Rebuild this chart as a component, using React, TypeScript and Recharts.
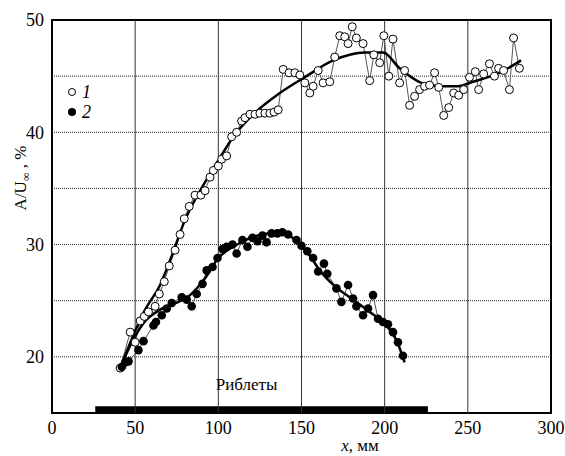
import React from "react";
import {
  ComposedChart,
  Line,
  XAxis,
  YAxis,
  ReferenceLine,
  ReferenceArea,
  ReferenceDot,
  Legend,
} from "recharts";

// Series 1 (open circles): x in mm, A/U∞ in %
const s1X = [
  41, 47, 50, 53, 55.5, 58, 62, 64.5, 67.5, 70.5, 74, 77, 79.5, 82.5, 86, 89.5, 92,
  95, 97, 100, 102, 105, 108, 111, 114, 116, 119, 122, 125, 128, 131, 133.5, 136,
  139, 142.5, 146, 149, 152, 155, 157, 160, 163, 167, 170, 173, 176, 178, 180.5,
  183, 187, 191, 193.5, 197, 199.5, 202.5, 205, 209, 212, 215, 218, 221, 224, 227,
  230, 232.5, 235.5, 238.5, 241.5, 244.5, 247.5, 251, 254.5, 256.5, 259.5, 263,
  266, 268.5, 271.5, 275, 277.5, 281,
];
const s1Y = [
  19.0, 22.2, 21.3, 23.2, 23.6, 24.0, 24.5, 25.6, 26.7, 28.1, 29.5, 30.9, 32.3, 33.4,
  34.4, 34.4, 34.8, 36.0, 36.6, 37.0, 37.6, 37.9, 39.6, 40.0, 41.0, 41.3, 41.6, 41.6,
  41.7, 41.7, 41.7, 41.8, 42.0, 45.6, 45.3, 45.3, 45.1, 44.4, 43.5, 44.1, 45.5, 44.4,
  44.5, 46.7, 48.6, 48.5, 47.9, 49.4, 48.4, 47.9, 44.6, 46.9, 46.2, 48.6, 45.0, 48.3,
  44.4, 45.5, 42.4, 43.2, 43.8, 44.1, 44.2, 45.3, 44.0, 41.5, 42.2, 43.5, 43.3, 43.8,
  44.9, 45.4, 43.8, 45.2, 46.1, 45.0, 45.7, 45.5, 43.8, 48.4, 45.7,
];

// Series 2 (filled circles)
const s2X = [
  42, 44, 46, 52, 55, 61, 62.5, 66, 69, 72, 78, 81, 84, 87, 90.5, 93, 96.5, 99.5,
  102.5, 105, 108.5, 111, 114.5, 117.5, 120.5, 123.5, 126.5, 129, 132, 135.5, 138.5,
  142, 147, 150, 153.5, 157, 160, 163.5, 165.5, 171, 174, 178, 181, 183, 187, 190,
  193, 196, 199, 202, 205, 208, 211,
];
const s2Y = [
  19.1, 19.5, 19.6, 20.6, 21.4, 22.8, 23.1, 23.7, 24.3, 24.8, 25.3, 25.1, 24.5, 25.6,
  26.5, 27.7, 28.0, 28.8, 29.6, 29.8, 30.0, 29.2, 30.4, 29.8, 30.6, 30.3, 30.8, 30.2,
  31.0, 31.0, 31.1, 30.9, 30.4, 29.9, 29.4, 28.8, 27.6, 28.3, 27.4, 26.1, 24.9, 26.4,
  25.2, 24.5, 23.7, 24.3, 25.5, 23.4, 23.1, 22.9, 22.2, 21.3, 20.1,
];

// Smoothed curves drawn through the data
const fit1X = [41, 50, 56, 65, 71, 80, 93, 100, 110, 121, 137, 153, 169, 179, 188, 199, 209, 222, 233, 244, 253, 269, 282];
const fit1Y = [19, 22.3, 24.2, 26.4, 28.6, 32.2, 35.8, 37.5, 39.8, 41.6, 43.5, 45.0, 46.4, 46.9, 47.1, 47.1, 45.7, 44.4, 44.1, 44.1, 44.5, 45.3, 46.4];
const fit2X = [41, 47, 55, 65, 73, 83, 92, 100, 110, 121, 130, 139, 148, 155, 161, 170, 181, 191, 201, 207, 212];
const fit2Y = [19, 21, 23, 24.2, 24.7, 25.5, 27, 28.8, 29.9, 30.7, 31.0, 31.15, 30.1, 29.0, 27.7, 26.3, 25.1, 24.0, 22.8, 21.5, 19.5];

const xTicks = [0, 50, 100, 150, 200, 250, 300];
const yTicks = [20, 30, 40, 50];
const hGrid = [20, 25, 30, 35, 40, 45];
const vGrid = [50, 100, 150, 200, 250];

// Riblet section along the wall
const ribletFrom = 26;
const ribletTo = 226;
const ribletLabel = "Риблеты";

const FONT = "Liberation Serif, serif";

const zip = (xs: number[], ys: number[]) => xs.map((x, i) => ({ x, y: ys[i] }));

function LegendBox() {
  return (
    <div style={{ fontFamily: FONT, fontSize: 18, fontStyle: "italic", lineHeight: "20px", color: "#000" }}>
      <div style={{ display: "flex", alignItems: "center" }}>
        <svg width={10} height={10} style={{ marginRight: 5 }}>
          <circle cx={5} cy={5} r={3.5} fill="#fff" stroke="#000" strokeWidth={1} />
        </svg>
        1
      </div>
      <div style={{ display: "flex", alignItems: "center" }}>
        <svg width={10} height={10} style={{ marginRight: 5 }}>
          <circle cx={5} cy={5} r={4} fill="#000" />
        </svg>
        2
      </div>
    </div>
  );
}

export default function App() {
  return (
    <div style={{ position: "absolute", left: 0, top: 0, background: "#fff", fontFamily: FONT }}>
      <ComposedChart
        width={565}
        height={456}
        margin={{ top: 20, right: 14, bottom: 0, left: 0 }}
        style={{ fontFamily: FONT }}
      >
        <XAxis
          type="number"
          dataKey="x"
          domain={[0, 300]}
          ticks={xTicks}
          height={43}
          axisLine={false}
          tickLine={false}
          tick={{ fontSize: 18, fill: "#000", fontFamily: FONT }}
          label={(props: any) => {
            const vb = props.viewBox || { x: 52, y: 413 };
            return (
              <text x={vb.x + 308} y={vb.y + 38} textAnchor="middle" fontSize={17} fontFamily={FONT} fill="#000">
                <tspan fontStyle="italic">x</tspan>
                <tspan>,  мм</tspan>
              </text>
            );
          }}
        />
        <YAxis
          type="number"
          domain={[15, 50]}
          ticks={yTicks}
          width={52}
          axisLine={false}
          tickLine={false}
          tick={{ fontSize: 18, fill: "#000", fontFamily: FONT }}
          label={(props: any) => {
            const vb = props.viewBox || { x: 0, y: 20, height: 393 };
            const cx = vb.x + 26;
            const cy = vb.y + 158;
            return (
              <text x={cx} y={cy} transform={`rotate(-90 ${cx} ${cy})`} textAnchor="middle" fontSize={17} fontFamily={FONT} fill="#000">
                <tspan>A/U</tspan>
                <tspan fontSize={12} dy={4}>∞</tspan>
                <tspan dy={-4}> , %</tspan>
              </text>
            );
          }}
        />

        {hGrid.map((v) => (
          <ReferenceLine key={`h${v}`} y={v} stroke="#222" strokeWidth={1} strokeDasharray="1 1" />
        ))}
        {vGrid.map((v) => (
          <ReferenceLine key={`v${v}`} x={v} stroke="#333" strokeWidth={1} />
        ))}

        <ReferenceArea x1={ribletFrom} x2={ribletTo} y1={15} y2={15.6} fill="#000" fillOpacity={1} stroke="none" />
        <ReferenceDot
          x={117}
          y={17.6}
          r={0}
          stroke="none"
          label={{ value: ribletLabel, position: "center", fontSize: 17, fill: "#000", fontFamily: FONT }}
        />

        <Line
          data={zip(s1X, s1Y)}
          dataKey="y"
          type="linear"
          stroke="#555"
          strokeWidth={1}
          dot={{ r: 4, stroke: "#000", strokeWidth: 1, fill: "#fff" }}
          isAnimationActive={false}
          legendType="none"
        />
        <Line
          data={zip(s2X, s2Y)}
          dataKey="y"
          type="linear"
          stroke="#555"
          strokeWidth={1}
          dot={{ r: 4.3, stroke: "#000", strokeWidth: 0, fill: "#000" }}
          isAnimationActive={false}
          legendType="none"
        />
        <Line
          data={zip(fit1X, fit1Y)}
          dataKey="y"
          type="monotone"
          stroke="#000"
          strokeWidth={2.5}
          dot={false}
          isAnimationActive={false}
          legendType="none"
        />
        <Line
          data={zip(fit2X, fit2Y)}
          dataKey="y"
          type="monotone"
          stroke="#000"
          strokeWidth={2.5}
          dot={false}
          isAnimationActive={false}
          legendType="none"
        />

        {/* plot frame */}
        <ReferenceArea x1={0} x2={300} y1={15} y2={50} fill="none" stroke="#000" strokeWidth={2} />

        <Legend
          layout="vertical"
          align="center"
          verticalAlign="middle"
          content={() => <LegendBox />}
          wrapperStyle={{ left: 67, top: 82, width: 40 }}
        />
      </ComposedChart>
    </div>
  );
}
